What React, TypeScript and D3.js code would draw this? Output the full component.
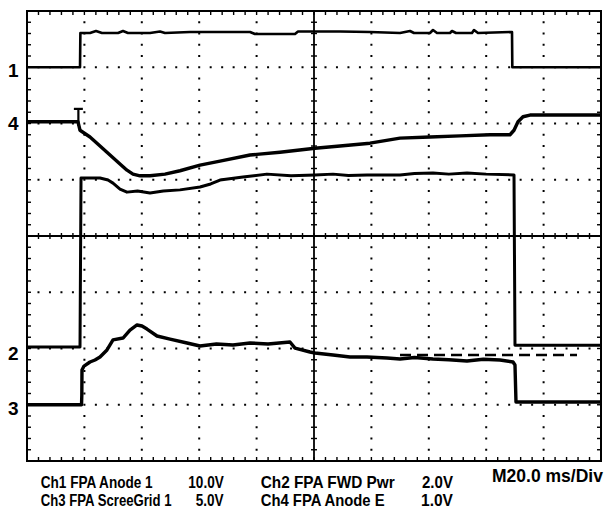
import React, { useLayoutEffect, useRef, useState } from 'react';
import * as d3 from 'd3';

// ---- data (time in ms, values in volts relative to channel ground) ----
const channelMarkers = ['1', '2', '3', '4'];
const channelNames = ['Ch1 FPA Anode 1', 'Ch2 FPA FWD Pwr', 'Ch3 FPA ScreeGrid 1', 'Ch4 FPA Anode E'];
const channelScaleLabels = ['10.0V', '2.0V', '5.0V', '1.0V'];
const voltsPerDiv = [10, 2, 5, 1];
const groundDiv = [3, -2, -3, 2];
const timebaseLabel = 'M20.0 ms/Div';
const timeDomain = [0, 200];
const divDomain = [-4, 4];

const ch1: [number, number][] = [
  [0, 0], [18.47, 0], [18.6, 6.09], [21.95, 6.09], [24.04, 6.44], [26.13, 6.09], [31.71, 6.09],
  [33.45, 6.44], [35.19, 6.09], [42.86, 6.09], [46.34, 6.36], [48.08, 6.09], [56.79, 6.27],
  [77.7, 6.27], [79.44, 5.91], [93.38, 5.91], [94.43, 6.36], [109.06, 6.36], [119.51, 6.27],
  [129.97, 6.09], [133.45, 6.44], [134.84, 6.09], [140.42, 6.09], [141.46, 6.62], [142.86, 6.09],
  [147.39, 6.09], [148.08, 6.44], [149.48, 6.09], [155.05, 6.09], [155.75, 6.62], [157.14, 6.09],
  [168.99, 6.27], [169.1, 0], [200, 0],
];

const ch2: [number, number][] = [
  [0, 0.05], [18.47, 0.05], [18.82, 6.06], [25.44, 6.06], [28.22, 5.99], [29.97, 5.88],
  [32.4, 5.67], [34.84, 5.56], [38.5, 5.6], [42.86, 5.53], [47.5, 5.6], [53.31, 5.64],
  [60.28, 5.74], [64.0, 5.85], [67.25, 5.99], [75.26, 6.1], [83.62, 6.2], [92.0, 6.14],
  [100.35, 6.17], [106.62, 6.2], [112.0, 6.15], [118.47, 6.17], [129.97, 6.17], [135.0, 6.22],
  [141.46, 6.24], [147.0, 6.2], [153.31, 6.24], [160.0, 6.2], [169.69, 6.17], [170.03, 0.12], [200, 0.12],
];

const ch3: [number, number][] = [
  [0, 0], [19.0, 0], [19.1, 0.87], [19.16, 3.09], [19.86, 3.44], [21.95, 3.8], [23.69, 3.98],
  [25.44, 4.24], [27.87, 4.87], [29.97, 5.76], [33.45, 5.93], [35.89, 6.64], [38.33, 7.09],
  [40.07, 7.0], [41.81, 6.73], [45.3, 6.11], [49.83, 5.84], [55.75, 5.49], [60.28, 5.22],
  [66.0, 5.4], [71.78, 5.31], [77.7, 5.49], [84.0, 5.4], [91.64, 5.58], [93.38, 5.04], [98.61, 4.69],
  [100.35, 4.6], [106.62, 4.42], [112.54, 4.24], [118.47, 4.24], [125.44, 4.16], [129.97, 4.07],
  [135.0, 4.2], [141.46, 4.07], [147.0, 4.0], [153.31, 3.89], [159.0, 4.05], [164.81, 3.98],
  [169.34, 3.8], [170.03, 3.53], [170.38, 0.24], [200, 0.24],
];

const ch4: [number, number][] = [
  [0, 0.03], [17.77, 0.03], [18.47, -0.12], [21.95, -0.24], [25.44, -0.4], [28.92, -0.56],
  [32.4, -0.72], [34.84, -0.83], [36.93, -0.9], [39.37, -0.93], [42.86, -0.93], [48.08, -0.9],
  [53.31, -0.84], [60.28, -0.74], [67.25, -0.67], [77.7, -0.56], [88.15, -0.51], [100.35, -0.44],
  [109.06, -0.4], [119.51, -0.35], [129.97, -0.26], [140.42, -0.24], [150.87, -0.22],
  [161.32, -0.2], [168.29, -0.2], [169.69, -0.12], [171.08, 0.03], [172.82, 0.12],
  [175.26, 0.15], [185.71, 0.15], [200, 0.15],
];

// trigger marker on ch4 (time ms, top volts)
const triggerMarker: [number, number] = [17.9, 0.26];
// dashed reference level on ch3: [t0, t1, volts]
const ch3Reference: [number, number, number] = [129.97, 191.64, 4.42];

const traces = [ch1, ch2, ch3, ch4];
const traceWidths = [2.6, 3, 3.4, 3.4];
const markerDy = [10, 11.5, 10, 6.5];

const font = "'Liberation Sans', Arial, sans-serif";

function FitText({ s, x, y, width, size = 16.5 }: { s: string; x: number; y: number; width: number; size?: number }) {
  const ref = useRef<SVGTextElement>(null);
  const [k, setK] = useState(1);
  useLayoutEffect(() => {
    if (ref.current) {
      const w = ref.current.getComputedTextLength();
      if (w > 0) setK(width / w);
    }
  }, [s, width, size]);
  return (
    <text
      ref={ref}
      transform={`translate(${x},${y}) scale(${k},1)`}
      fontSize={size}
      fontWeight="bold"
      fontFamily={font}
    >
      {s}
    </text>
  );
}

export default function App() {
  const left = 27, right = 601, top = 11, bottom = 461;
  const x = d3.scaleLinear().domain(timeDomain).range([left, right]);
  const yd = d3.scaleLinear().domain(divDomain).range([bottom, top]);
  const chY = (i: number, v: number) => yd(groundDiv[i] + v / voltsPerDiv[i]);

  const minorT = d3.range(0, 200.001, 4);
  const minorD = d3.range(-4, 4.0001, 0.2).map((d) => Math.round(d * 10) / 10);
  const majorT = d3.range(20, 200, 20);
  const majorD = d3.range(-3, 4, 1);
  const centerT = 100;

  const dots: JSX.Element[] = [];
  majorD.forEach((d) => {
    if (d === 0) return;
    minorT.forEach((t, k) => {
      if (t === 0 || t === 200) return;
      dots.push(<rect key={`h${d}-${k}`} x={x(t) - 1} y={yd(d) - 1} width={2} height={2} fill="#000" />);
    });
  });
  majorT.forEach((t) => {
    if (t === centerT) return;
    minorD.forEach((d, k) => {
      if (d === -4 || d === 4 || majorD.includes(d)) return;
      dots.push(<rect key={`v${t}-${k}`} x={x(t) - 1} y={yd(d) - 1} width={2} height={2} fill="#000" />);
    });
  });

  const ticks: JSX.Element[] = [];
  minorT.forEach((t, k) => {
    if (t === 0 || t === 200) return;
    const xx = x(t);
    ticks.push(<line key={`tt${k}`} x1={xx} x2={xx} y1={top} y2={top + 4} />);
    ticks.push(<line key={`tb${k}`} x1={xx} x2={xx} y1={bottom} y2={bottom - 4} />);
    ticks.push(<line key={`tc${k}`} x1={xx} x2={xx} y1={yd(0) - 3} y2={yd(0) + 3} />);
  });
  minorD.forEach((d, k) => {
    if (d === -4 || d === 4) return;
    const yy = yd(d);
    ticks.push(<line key={`tl${k}`} x1={left} x2={left + 4} y1={yy} y2={yy} />);
    ticks.push(<line key={`tr${k}`} x1={right} x2={right - 4} y1={yy} y2={yy} />);
    ticks.push(<line key={`tcv${k}`} x1={x(centerT) - 3} x2={x(centerT) + 3} y1={yy} y2={yy} />);
  });

  const lineFor = (i: number) =>
    d3
      .line<[number, number]>()
      .x((p) => x(p[0]))
      .y((p) => chY(i, p[1]))(traces[i]) || '';

  const trigX = x(triggerMarker[0]);
  const trigTop = chY(3, triggerMarker[1]);

  return (
    <svg width={605} height={510} style={{ position: 'absolute', left: 0, top: 0, background: '#fff' }}>
      <rect x={0} y={0} width={605} height={510} fill="#fff" />
      <g>{dots}</g>
      <g stroke="#000" strokeWidth={1.4}>{ticks}</g>
      <line x1={left} x2={right} y1={yd(0)} y2={yd(0)} stroke="#000" strokeWidth={1.8} />
      <line x1={x(centerT)} x2={x(centerT)} y1={top} y2={bottom} stroke="#000" strokeWidth={1.8} />
      <rect x={left} y={top} width={right - left} height={bottom - top} fill="none" stroke="#000" strokeWidth={2} />

      {traces.map((_, i) => (
        <path key={i} d={lineFor(i)} fill="none" stroke="#000" strokeWidth={traceWidths[i]} strokeLinejoin="round" />
      ))}
      <line
        x1={x(ch3Reference[0])}
        x2={x(ch3Reference[1])}
        y1={chY(2, ch3Reference[2])}
        y2={chY(2, ch3Reference[2])}
        stroke="#000"
        strokeWidth={2.4}
        strokeDasharray="11,6"
      />
      <g stroke="#000" strokeWidth={2.2}>
        <line x1={trigX - 4.5} x2={trigX + 4.5} y1={trigTop} y2={trigTop} />
        <line x1={trigX} x2={trigX} y1={trigTop} y2={chY(3, ch4[1][1]) + 4} />
      </g>

      {channelMarkers.map((m, i) => (
        <text key={m} x={8} y={yd(groundDiv[i]) + markerDy[i]} fontSize={19} fontWeight="bold" fontFamily={font}>
          {m}
        </text>
      ))}

      <FitText s={channelNames[0]} x={40.7} y={488} width={112} />
      <FitText s={channelScaleLabels[0]} x={188.3} y={488} width={35.5} />
      <FitText s={channelNames[2]} x={40.7} y={506} width={131} />
      <FitText s={channelScaleLabels[2]} x={195.7} y={506} width={28} />
      <FitText s={channelNames[1]} x={260.7} y={488} width={134} />
      <FitText s={channelScaleLabels[1]} x={422} y={488} width={31} />
      <FitText s={channelNames[3]} x={260.7} y={506} width={124} />
      <FitText s={channelScaleLabels[3]} x={421} y={506} width={32} />
      <FitText s={timebaseLabel} x={492} y={482} width={111} size={18} />
    </svg>
  );
}
